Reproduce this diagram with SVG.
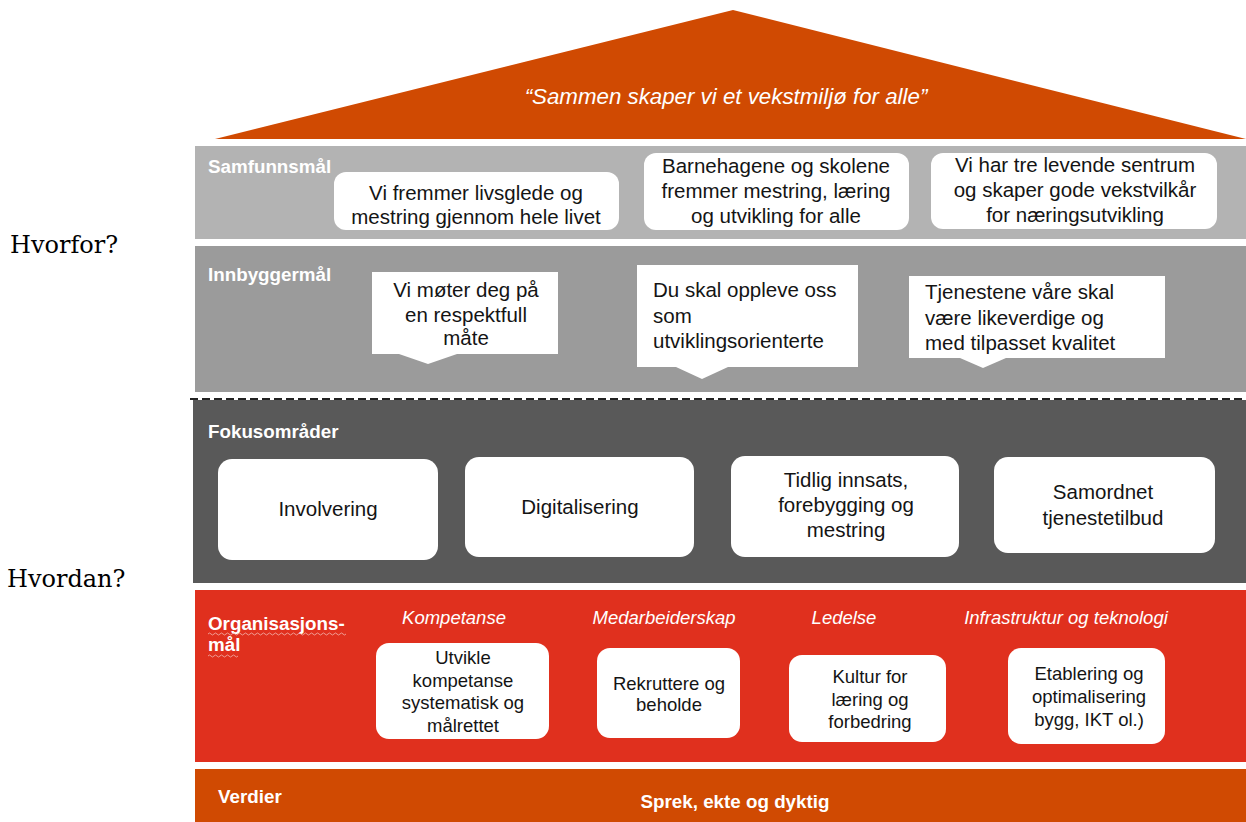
<svg xmlns="http://www.w3.org/2000/svg" width="1246" height="822" viewBox="0 0 1246 822">
<style>
.t{font-family:"Liberation Sans",Arial,sans-serif;fill:#141414;font-size:20.5px}
.c{text-anchor:middle}
.s{font-size:18.5px}
.lbl{font-family:"Liberation Sans",Arial,sans-serif;font-weight:bold;fill:#fff;font-size:18.8px}
.it{font-family:"Liberation Sans",Arial,sans-serif;font-style:italic;fill:#fff;font-size:18.5px;text-anchor:middle}
.q{font-family:"DejaVu Serif",serif;font-size:24px;fill:#000}
.box{fill:#fff}
</style>
<rect width="1246" height="822" fill="#fff"/>
<g id="roof">
<polygon points="733,10 1246,139 215,139" fill="#D04A02"/>
<text class="it" x="726" y="104" style="font-size:22.3px">“Sammen skaper vi et vekstmiljø for alle”</text>
</g>
<g id="side-labels">
<text class="q" x="10" y="253">Hvorfor?</text>
<text class="q" x="7" y="587">Hvordan?</text>
</g>
<g id="samfunnsmal">
<rect x="195" y="146" width="1051" height="93" fill="#B3B3B3"/>
<text class="lbl" x="208" y="173">Samfunnsmål</text>
<rect class="box" x="334" y="172" width="285" height="58" rx="12"/>
<text class="t c" x="476"><tspan x="476" y="200">Vi fremmer livsglede og</tspan><tspan x="476" y="224">mestring gjennom hele livet</tspan></text>
<rect class="box" x="644" y="153" width="265" height="77" rx="12"/>
<text class="t c"><tspan x="776" y="173">Barnehagene og skolene</tspan><tspan x="776" y="198">fremmer mestring, læring</tspan><tspan x="776" y="223">og utvikling for alle</tspan></text>
<rect class="box" x="931" y="153" width="286" height="76" rx="12"/>
<text class="t c"><tspan x="1075" y="172">Vi har tre levende sentrum</tspan><tspan x="1075" y="197">og skaper gode vekstvilkår</tspan><tspan x="1075" y="222">for næringsutvikling</tspan></text>
</g>
<g id="innbyggermal">
<rect x="195" y="246" width="1051" height="146" fill="#9B9B9B"/>
<text class="lbl" x="208" y="281">Innbyggermål</text>
<path class="box" d="M372,272 H558 V354 H457 L428,364 L399,354 H372 Z"/>
<text class="t c"><tspan x="466" y="297">Vi møter deg på</tspan><tspan x="466" y="322">en respektfull</tspan><tspan x="466" y="345">måte</tspan></text>
<path class="box" d="M637,265 H858 V367 H728 L702,379 L676,367 H637 Z"/>
<text class="t"><tspan x="653" y="297">Du skal oppleve oss</tspan><tspan x="653" y="323">som</tspan><tspan x="653" y="348">utviklingsorienterte</tspan></text>
<path class="box" d="M909,276 H1165 V358 H1006 L983,368 L960,358 H909 Z"/>
<text class="t"><tspan x="925" y="299">Tjenestene våre skal</tspan><tspan x="925" y="325">være likeverdige og</tspan><tspan x="925" y="350">med tilpasset kvalitet</tspan></text>
</g>
<g id="connectors">
<line x1="190" y1="399" x2="1246" y2="399" stroke="#222" stroke-width="2" stroke-dasharray="8 4"/>
</g>
<g id="fokusomrader">
<rect x="193" y="400" width="1053" height="183" fill="#595959"/>
<text class="lbl" x="208" y="438">Fokusområder</text>
<rect class="box" x="218" y="459" width="220" height="101" rx="14"/>
<text class="t c" x="328" y="516">Involvering</text>
<rect class="box" x="465" y="457" width="229" height="100" rx="14"/>
<text class="t c" x="580" y="514">Digitalisering</text>
<rect class="box" x="731" y="456" width="228" height="101" rx="14"/>
<text class="t c"><tspan x="846" y="487">Tidlig innsats,</tspan><tspan x="846" y="512">forebygging og</tspan><tspan x="846" y="537">mestring</tspan></text>
<rect class="box" x="994" y="457" width="221" height="96" rx="14"/>
<text class="t c"><tspan x="1103" y="499">Samordnet</tspan><tspan x="1103" y="525">tjenestetilbud</tspan></text>
</g>
<g id="organisasjonsmal">
<rect x="195" y="590" width="1051" height="172" fill="#E0301E"/>
<text class="lbl"><tspan x="208" y="630">Organisasjons-</tspan><tspan x="208" y="651">mål</tspan></text>
<path d="M208,634 q1.5,-2 3,0 t3,0 t3,0 t3,0 t3,0 t3,0 t3,0 t3,0 t3,0 t3,0 t3,0 t3,0 t3,0 t3,0 t3,0 t3,0 t3,0 t3,0 t3,0 t3,0 t3,0 t3,0 t3,0 t3,0 t3,0 t3,0 t3,0 t3,0 t3,0 t3,0 t3,0 t3,0 t3,0 t3,0 t3,0 t3,0 t3,0 t3,0 t3,0 t3,0 t3,0 t3,0 t3,0 t3,0 t3,0 t3,0 M208,656 q1.5,-2 3,0 t3,0 t3,0 t3,0 t3,0 t3,0 t3,0 t3,0 t3,0 t3,0" fill="none" stroke="#F4B6AE" stroke-width="0.8"/>
<text class="it" x="454" y="624">Kompetanse</text>
<text class="it" x="664" y="624">Medarbeiderskap</text>
<text class="it" x="844" y="624">Ledelse</text>
<text class="it" x="1066" y="624">Infrastruktur og teknologi</text>
<rect class="box" x="376" y="643" width="173" height="96" rx="13"/>
<text class="t c s"><tspan x="463" y="664">Utvikle</tspan><tspan x="463" y="687">kompetanse</tspan><tspan x="463" y="709">systematisk og</tspan><tspan x="463" y="732">målrettet</tspan></text>
<rect class="box" x="597" y="648" width="143" height="90" rx="13"/>
<text class="t c s"><tspan x="669" y="690">Rekruttere og</tspan><tspan x="669" y="711">beholde</tspan></text>
<rect class="box" x="789" y="655" width="157" height="87" rx="13"/>
<text class="t c s"><tspan x="870" y="683">Kultur for</tspan><tspan x="870" y="706">læring og</tspan><tspan x="870" y="728">forbedring</tspan></text>
<rect class="box" x="1008" y="648" width="157" height="96" rx="13"/>
<text class="t c s"><tspan x="1089" y="680">Etablering og</tspan><tspan x="1089" y="703">optimalisering</tspan><tspan x="1089" y="726">bygg, IKT ol.)</tspan></text>
</g>
<g id="verdier">
<rect x="195" y="769" width="1051" height="53" fill="#D04A02"/>
<text class="lbl" x="218" y="803">Verdier</text>
<text class="lbl" x="735" y="808" text-anchor="middle">Sprek, ekte og dyktig</text>
</g>
</svg>
